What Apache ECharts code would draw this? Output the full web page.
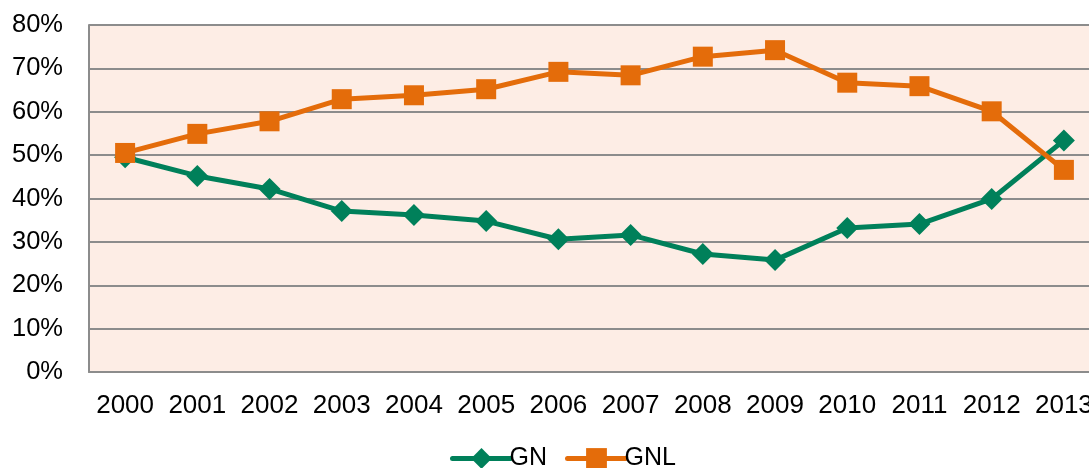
<!DOCTYPE html>
<html>
<head>
<meta charset="utf-8">
<script src="https://cdn.jsdelivr.net/npm/echarts@6/dist/echarts.min.js"></script>
<style>html,body{margin:0;padding:0;background:#fff;overflow:hidden}#c{width:1100px;height:468px}</style>
</head>
<body>
<div id="c"></div>
<script>
var categories = ['2000','2001','2002','2003','2004','2005','2006','2007','2008','2009','2010','2011','2012','2013'];
var gnValues = [49.5, 45.2, 42.2, 37.1, 36.2, 34.8, 30.6, 31.6, 27.2, 25.8, 33.2, 34.1, 39.9, 53.4];
var gnlValues = [50.5, 54.9, 57.8, 62.9, 63.8, 65.2, 69.2, 68.4, 72.7, 74.2, 66.7, 65.9, 60.1, 46.6];
var yTicks = {min: 0, max: 80, interval: 10};

var chart = echarts.init(document.getElementById('c'), null, {renderer: 'canvas'});
var font = 'Liberation Sans, Arial, sans-serif';
chart.setOption({
  animation: false,
  backgroundColor: '#ffffff',
  grid: {left: 89, top: 25, width: 1011, height: 347, backgroundColor: '#FDEDE5', show: true, borderWidth: 0},
  legend: {
    left: 445, top: 441, itemWidth: 58, itemHeight: 26, itemGap: 18,
    lineStyle: {width: 5, cap: 'round'},
    textStyle: {fontFamily: font, fontSize: 25, color: '#000', padding: [0,0,0,-6]},
    data: ['GN', 'GNL']
  },
  xAxis: {
    type: 'category', data: categories, boundaryGap: true,
    axisLine: {show: true, lineStyle: {color: '#8C8C8C', width: 2}},
    axisTick: {show: false},
    axisLabel: {fontFamily: font, fontSize: 26, color: '#000', margin: 21, interval: 0}
  },
  yAxis: {
    type: 'value', min: yTicks.min, max: yTicks.max, interval: yTicks.interval,
    axisLine: {show: true, lineStyle: {color: '#8C8C8C', width: 2}},
    axisTick: {show: false},
    splitLine: {show: true, lineStyle: {color: '#8C8C8C', width: 2}},
    axisLabel: {fontFamily: font, fontSize: 25.5, color: '#000', margin: 26, formatter: '{value}%'}
  },
  series: [
    {name: 'GN', type: 'line', data: gnValues, symbol: 'diamond', symbolSize: 22,
     lineStyle: {color: '#00805A', width: 5}, itemStyle: {color: '#00805A'}, z: 2},
    {name: 'GNL', type: 'line', data: gnlValues, symbol: 'rect', symbolSize: 20,
     lineStyle: {color: '#E46C0A', width: 5}, itemStyle: {color: '#E46C0A'}, z: 3}
  ]
});
</script>
</body>
</html>
